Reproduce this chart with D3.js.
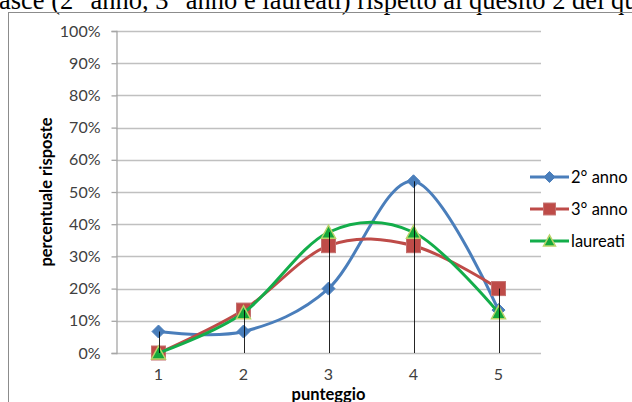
<!DOCTYPE html>
<html><head><meta charset="utf-8">
<script src="https://cdn.jsdelivr.net/npm/d3@7"></script>
<style>html,body{margin:0;padding:0;background:#fff;overflow:hidden}</style>
</head><body>
<script>
const categories = [1, 2, 3, 4, 5];
const seriesNames = ["2° anno", "3° anno", "laureati"];
const anno2 = [0.0667, 0.0667, 0.20, 0.5333, 0.1333];
const anno3 = [0.0, 0.1333, 0.3333, 0.3333, 0.20];
const laureati = [0.0, 0.125, 0.375, 0.375, 0.125];
const yTicks = [0, 0.1, 0.2, 0.3, 0.4, 0.5, 0.6, 0.7, 0.8, 0.9, 1.0];
const topText = "asce (2° anno, 3° anno e laureati) rispetto al quesito 2 del questionario";

const W = 632, H = 402;
const svg = d3.select("body").append("svg").attr("width", W).attr("height", H);
const font = "Lato, 'Open Sans', sans-serif";

// heading text (clipped at top, as in the source page)
svg.append("text").attr("x", -1).attr("y", 9).text(topText)
  .attr("font-family", "'Liberation Serif', 'Times New Roman', serif")
  .attr("font-size", 26.5).attr("fill", "#000");

// chart frame
svg.append("rect").attr("x", 8.5).attr("y", 12.5).attr("width", 700).attr("height", 500)
  .attr("fill", "none").attr("stroke", "#8c8c8c").attr("stroke-width", 1);

const x = d3.scaleBand().domain(categories).range([116, 541]).paddingInner(0).paddingOuter(0);
const cx = d => x(d) + x.bandwidth() / 2;
const y = d3.scaleLinear().domain([0, 1]).range([353, 31]);

// gridlines
svg.append("g").selectAll("line").data(yTicks).join("line")
  .attr("x1", 116).attr("x2", 541)
  .attr("y1", d => Math.round(y(d)) + 0.5).attr("y2", d => Math.round(y(d)) + 0.5)
  .attr("stroke", "#c0c0c0").attr("stroke-width", 1.3);

// y axis
const yAxis = d3.axisLeft(y).tickValues(yTicks).tickFormat(d3.format(".0%")).tickSize(5).tickPadding(11);
const gy = svg.append("g").attr("transform", "translate(116.5,0)").call(yAxis);
gy.select(".domain").attr("stroke", "#a6a6a6").attr("stroke-width", 1.3);
gy.selectAll(".tick line").attr("stroke", "#a6a6a6").attr("stroke-width", 1.3);
gy.selectAll(".tick text").attr("font-family", font).attr("font-size", 16).attr("fill", "#404040");

// x axis labels
const xAxis = d3.axisBottom(x).tickSize(0).tickPadding(16);
const gx = svg.append("g").attr("transform", "translate(0,353)").call(xAxis);
gx.select(".domain").remove();
gx.selectAll(".tick text").attr("font-family", font).attr("font-size", 16).attr("fill", "#404040");

// axis titles
svg.append("text").attr("transform", `translate(52,${(y(0) + y(1)) / 2}) rotate(-90)`)
  .attr("text-anchor", "middle").attr("font-family", font).attr("font-weight", "bold")
  .attr("font-size", 16.5).attr("fill", "#000").text("percentuale risposte");
svg.append("text").attr("x", cx(3)).attr("y", 400).attr("text-anchor", "middle")
  .attr("font-family", font).attr("font-weight", "bold").attr("font-size", 16.5)
  .attr("fill", "#000").text("punteggio");

const series = [
  { name: seriesNames[0], values: anno2, color: "#4a7ebb", sym: "diamond" },
  { name: seriesNames[1], values: anno3, color: "#be4b48", sym: "square" },
  { name: seriesNames[2], values: laureati, color: "#13ad4a", sym: "triangle" }
];

function marker(g, s, px, py, scale) {
  scale = scale || 1;
  if (s.sym === "diamond") {
    const r = 6.5 * scale;
    g.append("path").attr("d", `M${px},${py - r}L${px + r},${py}L${px},${py + r}L${px - r},${py}Z`)
      .attr("fill", s.color).attr("stroke", s.color).attr("stroke-width", 1);
  } else if (s.sym === "square") {
    const r = 7 * scale;
    g.append("rect").attr("x", px - r).attr("y", py - r).attr("width", 2 * r).attr("height", 2 * r)
      .attr("fill", s.color).attr("stroke", "#c4706e").attr("stroke-width", 1);
  } else {
    const r = 7 * scale;
    g.append("path").attr("d", `M${px},${py - r}L${px + r},${py + r * 0.85}L${px - r},${py + r * 0.85}Z`)
      .attr("fill", "#14a83c").attr("stroke", "#b9d36a").attr("stroke-width", 1.5);
  }
}

const line = d3.line().x((d, i) => cx(categories[i])).y(d => y(d)).curve(d3.curveCardinal.tension(0));

series.forEach(s => {
  const g = svg.append("g");
  g.append("path").attr("d", line(s.values)).attr("fill", "none")
    .attr("stroke", s.color).attr("stroke-width", 3).attr("stroke-linejoin", "round");
  s.values.forEach((v, i) => marker(g, s, cx(categories[i]), y(v)));
});

// drop lines
svg.append("g").selectAll("line").data(categories).join("line")
  .attr("x1", d => Math.round(cx(d)) + 0.5).attr("x2", d => Math.round(cx(d)) + 0.5)
  .attr("y1", (d, i) => y(d3.max(series, s => s.values[i])))
  .attr("y2", y(0)).attr("stroke", "#000").attr("stroke-width", 1).attr("opacity", 0.85);

// legend
const lg = svg.append("g");
series.forEach((s, i) => {
  const ly = 177 + i * 32;
  lg.append("line").attr("x1", 530).attr("x2", 569).attr("y1", ly).attr("y2", ly)
    .attr("stroke", s.color).attr("stroke-width", 3);
  marker(lg, s, 549.5, ly, 0.85);
  lg.append("text").attr("x", 571).attr("y", ly).attr("dy", "0.35em")
    .attr("font-family", font).attr("font-size", 16.5).attr("fill", "#000").text(s.name);
});
</script>
</body></html>
